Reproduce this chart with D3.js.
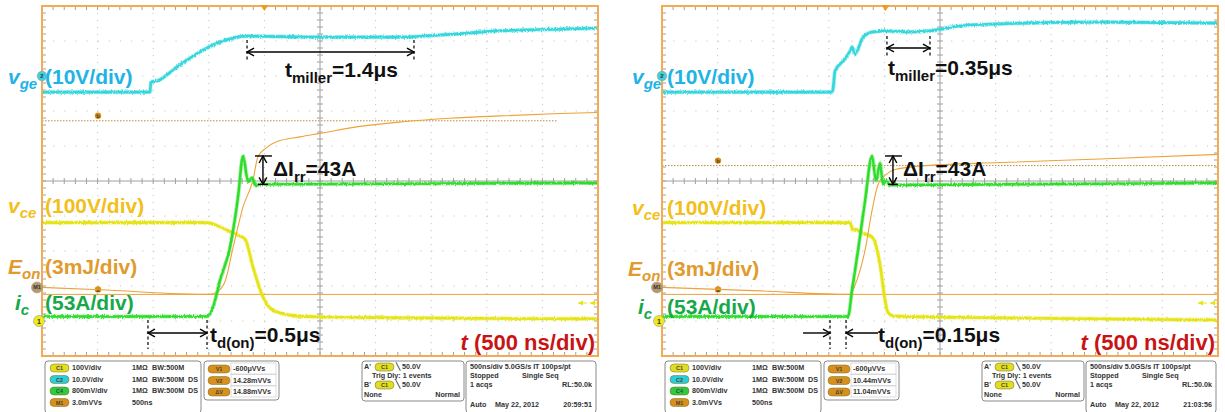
<!DOCTYPE html>
<html>
<head>
<meta charset="utf-8">
<script src="https://cdn.jsdelivr.net/npm/d3@7"></script>
<style>
  body { margin: 0; background: #fff; }
  svg { display: block; font-family: "Liberation Sans", Arial, sans-serif; }
</style>
</head>
<body>
<svg id="chart" width="1225" height="412"></svg>
<script>
// ---- Measured waveforms (time in ns, 500 ns/div, 10 div) ----
// Left capture
const leftVgeT  = [0, 971, 980, 1034, 1214, 1421, 1601, 1844, 2500, 3219, 3579, 4119, 4658, 5000];
const leftVgeV  = [-4.6, -4.6, -1.7, -1.4, 2.6, 6.9, 9.7, 11.4, 11.1, 11.1, 11.7, 12.9, 13.4, 13.7];
const leftVceT  = [0, 1484, 1601, 1718, 1826, 1897, 1987, 2050, 2140, 2320, 2500, 3219, 5000];
const leftVceV  = [281, 281, 269, 251, 234, 154, 69, 37, 23, 14, 12, 9, 6];
const leftIcT   = [0, 1484, 1538, 1601, 1691, 1763, 1808, 1853, 1888, 1924, 1960, 5000];
const leftIcA   = [0, 0, 14, 55, 105, 181, 243, 204, 210, 198, 200, 202];
const leftEonT  = [0, 522, 1511, 1574, 1646, 1718, 1808, 1897, 1942, 2023, 2113, 2320, 2500, 2860, 3246, 3669, 4119, 4658, 5000];
const leftEonE  = [0, -0.2, -0.6, -0.4, 0.5, 3.4, 6.9, 9.2, 11.2, 12.0, 12.5, 12.9, 13.2, 13.8, 14.2, 14.5, 14.7, 14.9, 15.0];
const leftCursors = [-0.6, 14.28];          // V1, V2 (mJ)
const leftMiller  = [1844, 3345];           // ns
const leftTdOn    = [953, 1484];            // ns
const leftIrrT    = 1987;                   // ns
const leftIrr     = [200, 243];             // A (steady, peak)

// Right capture
const rightVgeT = [0, 1529, 1538, 1556, 1628, 1691, 1709, 1736, 1808, 1898, 2023, 2230, 2410, 2680, 3040, 3939, 5000];
const rightVgeV = [-4.6, -4.6, -3.7, 1.4, 4.3, 7.1, 8.3, 6.3, 11.1, 12.6, 12.9, 12.6, 12.9, 14.3, 14.9, 15.4, 15.1];
const rightVceT = [0, 1691, 1718, 1745, 1781, 1898, 1961, 2006, 2032, 2095, 3040, 5000];
const rightVceV = [281, 281, 260, 262, 255, 237, 160, 60, 23, 14, 9, 3];
const rightIcT  = [0, 1673, 1709, 1763, 1826, 1889, 1925, 1961, 1988, 2014, 2050, 5000];
const rightIcA  = [0, 0, 40, 100, 175, 243, 205, 232, 200, 206, 199, 202];
const rightEonT = [0, 881, 1691, 1736, 1826, 1889, 1942, 2006, 2095, 2320, 3040, 3939, 5000];
const rightEonE = [0, -0.3, -0.6, 0.2, 3.2, 6.6, 8.8, 9.6, 10.1, 10.4, 10.7, 11.0, 11.4];
const rightCursors = [-0.6, 10.44];
const rightMiller  = [2023, 2410];
const rightTdOn    = [1511, 1655];
const rightIrrT    = 2077;
const rightIrr     = [200, 243];

// Readout panels
const chanRows = [
  ["C1", "100V/div", "1MΩ", "BW:500M", ""],
  ["C2", "10.0V/div", "1MΩ", "BW:500M", "DS"],
  ["C4", "800mV/div", "1MΩ", "BW:500M", "DS"],
  ["M1", "3.0mVVs", "500ns", "", ""]
];
const leftCursorRows  = [["V1", "-600μVVs"], ["V2", "14.28mVVs"], ["ΔV", "14.88mVVs"]];
const rightCursorRows = [["V1", "-600μVVs"], ["V2", "10.44mVVs"], ["ΔV", "11.04mVVs"]];
const leftClock  = "20:59:51";
const rightClock = "21:03:56";

// ---- Drawing ----
const svg = d3.select("#chart");
const PW = 556, PH = 350, PY = 6;
const COL = {
  frame: "#f3ab55", grid: "#c6c6c6", axis: "#a0a0a0",
  vge: "#35d6dc", vce: "#e4e414", ic: "#2fdc2a", eon: "#eea23a",
  vgeTxt: "#20b4e6", vceTxt: "#f2bf1c", eonTxt: "#e19a2c", icTxt: "#17a84a", tTxt: "#c81414"
};
const badge = { C1: "#e0de20", C2: "#28cfd8", C4: "#2ccc3c", M1: "#d8901c", V1: "#d8901c", V2: "#d8901c", "ΔV": "#d8901c" };

// acquisition-noise look for the sampled traces: vertical-only jitter
const defs = svg.append("defs");
const f = defs.append("filter").attr("id", "jitter").attr("x", "-2%").attr("y", "-10%").attr("width", "104%").attr("height", "120%");
f.append("feTurbulence").attr("type", "fractalNoise").attr("baseFrequency", "1.1 0.35").attr("numOctaves", 2).attr("seed", 3).attr("result", "n");
f.append("feColorMatrix").attr("in", "n").attr("type", "matrix")
  .attr("values", "0 0 0 0 0.5  0 1 0 0 0  0 0 0 0 0  0 0 0 0 1").attr("result", "nm");
f.append("feDisplacementMap").attr("in", "SourceGraphic").attr("in2", "nm").attr("scale", 3.2)
  .attr("xChannelSelector", "R").attr("yChannelSelector", "G");

function chScale(perDiv, groundDiv) {
  return d3.scaleLinear()
    .domain([(-5 - groundDiv) * perDiv, (5 - groundDiv) * perDiv])
    .range([PY + PH, PY]);
}

function arrowHead(g, x, y, dir, size) {
  // open "V" arrowhead; dir: "l","r","u","d"
  const s = size || 7, w = s * 0.55;
  let d;
  if (dir === "l") d = `M${x + s},${y - w} L${x},${y} L${x + s},${y + w}`;
  if (dir === "r") d = `M${x - s},${y - w} L${x},${y} L${x - s},${y + w}`;
  if (dir === "u") d = `M${x - w},${y + s} L${x},${y} L${x + w},${y + s}`;
  if (dir === "d") d = `M${x - w},${y - s} L${x},${y} L${x + w},${y - s}`;
  g.append("path").attr("d", d).attr("fill", "none").attr("stroke", "#000").attr("stroke-width", 1.4);
}

function drawPanel(p) {
  const g = svg.append("g");
  const x = d3.scaleLinear().domain([0, 5000]).range([p.x0, p.x0 + PW]);
  const yVge = chScale(10, 3.0);
  const yVce = chScale(100, -4.0);
  const yIc  = chScale(53, -3.87);
  const yEon = chScale(3, -3.04);
  const X1 = p.x0 + PW, Y1 = PY + PH;
  const dx = PW / 10, dy = PH / 10;
  const cx = p.x0 + PW / 2, cy = PY + PH / 2;

  // graticule: dotted division lines
  const grid = g.append("g");
  for (let i = 1; i < 10; i++) {
    if (i === 5) continue;
    grid.append("line").attr("x1", p.x0 + i * dx).attr("x2", p.x0 + i * dx).attr("y1", PY).attr("y2", Y1)
      .attr("stroke", COL.grid).attr("stroke-width", 1).attr("stroke-dasharray", `1.2,${dy / 5 - 1.2}`);
    grid.append("line").attr("y1", PY + i * dy).attr("y2", PY + i * dy).attr("x1", p.x0).attr("x2", X1)
      .attr("stroke", COL.grid).attr("stroke-width", 1).attr("stroke-dasharray", `1.2,${dx / 5 - 1.2}`);
  }
  // centre axes with minor ticks
  grid.append("line").attr("x1", cx).attr("x2", cx).attr("y1", PY).attr("y2", Y1).attr("stroke", COL.axis).attr("stroke-width", 1);
  grid.append("line").attr("y1", cy).attr("y2", cy).attr("x1", p.x0).attr("x2", X1).attr("stroke", COL.axis).attr("stroke-width", 1);
  for (let i = 1; i < 50; i++) {
    const xx = p.x0 + i * dx / 5, yy = PY + i * dy / 5;
    grid.append("line").attr("x1", xx).attr("x2", xx).attr("y1", cy - 3).attr("y2", cy + 3).attr("stroke", COL.axis);
    grid.append("line").attr("y1", yy).attr("y2", yy).attr("x1", cx - 3).attr("x2", cx + 3).attr("stroke", COL.axis);
    // frame ticks
    grid.append("line").attr("x1", xx).attr("x2", xx).attr("y1", PY).attr("y2", PY + 4).attr("stroke", COL.axis);
    grid.append("line").attr("x1", xx).attr("x2", xx).attr("y1", Y1 - 4).attr("y2", Y1).attr("stroke", COL.axis);
    grid.append("line").attr("y1", yy).attr("y2", yy).attr("x1", p.x0).attr("x2", p.x0 + 4).attr("stroke", COL.axis);
    grid.append("line").attr("y1", yy).attr("y2", yy).attr("x1", X1 - 4).attr("x2", X1).attr("stroke", COL.axis);
  }

  // cursors (energy levels)
  g.append("line").attr("x1", p.x0).attr("x2", X1).attr("y1", yEon(p.cursors[0])).attr("y2", yEon(p.cursors[0]))
    .attr("stroke", COL.eon).attr("stroke-width", 1);
  g.append("line").attr("x1", p.x0).attr("x2", X1 - p.dotCut).attr("y1", yEon(p.cursors[1])).attr("y2", yEon(p.cursors[1]))
    .attr("stroke", "#b88a3a").attr("stroke-width", 1).attr("stroke-dasharray", "1.5,1.5");
  [["a", p.cursors[0]], ["b", p.cursors[1]]].forEach(([lab, v]) => {
    const xx = p.x0 + 56, yy = yEon(v) - 5;
    g.append("circle").attr("cx", xx).attr("cy", yy).attr("r", 3.2).attr("fill", "#d89020");
    g.append("text").attr("x", xx).attr("y", yy + 2.2).attr("text-anchor", "middle").attr("font-size", 6)
      .attr("font-weight", "bold").attr("fill", "#5a3a00").text(lab);
  });

  const line = (ys) => d3.line().x(d => x(d[0])).y(d => ys(d[1])).curve(d3.curveMonotoneX);
  const trace = (ts, vs, ys, color, w) => {
    const pts = ts.map((t, i) => [t, vs[i]]);
    const tg = g.append("g").attr("filter", "url(#jitter)");
    tg.append("path").attr("d", line(ys)(pts)).attr("fill", "none").attr("stroke", color)
      .attr("stroke-width", w + 1.6).attr("stroke-opacity", 0.4).attr("stroke-linejoin", "round");
    tg.append("path").attr("d", line(ys)(pts)).attr("fill", "none").attr("stroke", color)
      .attr("stroke-width", w).attr("stroke-linejoin", "round");
  };
  trace(p.vgeT, p.vgeV, yVge, COL.vge, 2.6);
  trace(p.vceT, p.vceV, yVce, COL.vce, 2.6);
  g.append("path").attr("d", line(yEon)(p.eonT.map((t, i) => [t, p.eonE[i]])))
    .attr("fill", "none").attr("stroke", COL.eon).attr("stroke-width", 1.1);
  trace(p.icT, p.icA, yIc, COL.ic, 2.4);

  // off-screen indicator arrows (right edge)
  const ya = yVce(0) - 18;
  [X1 - 20, X1 - 8].forEach(xx => {
    g.append("path").attr("d", `M${xx},${ya} l5,-2.5 l0,5 z`).attr("fill", COL.vce);
    g.append("line").attr("x1", xx).attr("x2", xx + 9).attr("y1", ya).attr("y2", ya).attr("stroke", COL.vce).attr("stroke-width", 1);
  });

  // frame
  g.append("rect").attr("x", p.x0).attr("y", PY).attr("width", PW).attr("height", PH)
    .attr("fill", "none").attr("stroke", COL.frame).attr("stroke-width", 2);
  // trigger position marker
  const tx = x(p.trigT);
  g.append("path").attr("d", `M${tx - 4},${PY - 1} L${tx + 4},${PY - 1} L${tx},${PY + 5} Z`).attr("fill", "#f09a20");

  // channel ground markers
  const mk = (yy, r, fill, lab, fs, xoff) => {
    g.append("circle").attr("cx", p.x0 + xoff).attr("cy", yy).attr("r", r).attr("fill", fill).attr("stroke", "#999").attr("stroke-width", 0.6);
    g.append("text").attr("x", p.x0 + xoff).attr("y", yy + fs * 0.36).attr("text-anchor", "middle")
      .attr("font-size", fs).attr("font-weight", "bold").attr("fill", "#333").text(lab);
  };
  mk(yVge(0), 4.8, "#3fd2dc", "2", 6, 0);
  mk(yEon(0), 5.5, "#b49a6a", "M1", 5.5, -5);
  mk(yVce(0), 5.5, "#f0ea1a", "1", 7, -3);

  // channel labels
  const lab = (yy, color, sym, sub, scale) => {
    const t = g.append("text").attr("y", yy).attr("font-size", 21).attr("font-weight", "bold").attr("fill", color);
    t.append("tspan").attr("x", p.x0 + p.symDx[sym]).attr("font-style", "italic").text(sym);
    t.append("tspan").attr("font-style", "italic").attr("font-size", 15).attr("dy", 5).text(sub);
    g.append("text").attr("x", p.x0 + p.labDx).attr("y", yy).attr("font-size", 21).attr("font-weight", "bold")
      .attr("fill", color).text(scale);
  };
  lab(p.labY[0], COL.vgeTxt, "v", "ge", "(10V/div)");
  lab(p.labY[1], COL.vceTxt, "v", "ce", "(100V/div)");
  lab(p.labY[2], COL.eonTxt, "E", "on", "(3mJ/div)");
  lab(p.labY[3], COL.icTxt, "i", "c", "(53A/div)");

  // time base label
  const tt = g.append("text").attr("x", X1 - 3).attr("y", Y1 - 6).attr("text-anchor", "end")
    .attr("font-size", 22).attr("font-weight", "bold").attr("fill", COL.tTxt);
  tt.append("tspan").attr("font-style", "italic").text("t");
  tt.append("tspan").text(" (500 ns/div)");

  // ---- annotations ----
  const ann = g.append("g");
  const dashV = (xx, y0, y1) => ann.append("line").attr("x1", xx).attr("x2", xx).attr("y1", y0).attr("y2", y1)
    .attr("stroke", "#000").attr("stroke-width", 1.2).attr("stroke-dasharray", "3,2.5");
  const hLine = (x0, x1, yy) => ann.append("line").attr("x1", x0).attr("x2", x1).attr("y1", yy).attr("y2", yy)
    .attr("stroke", "#000").attr("stroke-width", 1.4);
  const subText = (xx, yy, main, sub, rest) => {
    const t = ann.append("text").attr("x", xx).attr("y", yy).attr("font-size", 21).attr("font-weight", "bold").attr("fill", "#111");
    t.append("tspan").text(main);
    t.append("tspan").attr("font-size", 15).attr("dy", 6).text(sub);
    t.append("tspan").attr("dy", -6).text(rest);
  };

  // Miller plateau
  const m0 = x(p.miller[0]), m1 = x(p.miller[1]), my = p.millerY;
  dashV(m0, my - 12, my + 10); dashV(m1, my - 12, my + 10);
  hLine(m0, m1, my); arrowHead(ann, m0, my, "l"); arrowHead(ann, m1, my, "r");
  subText(p.millerTx, p.millerTy, "t", "miller", p.millerText);

  // reverse-recovery overshoot
  const ix = x(p.irrT), iy0 = yIc(p.irr[1]), iy1 = yIc(p.irr[0]);
  hLine(ix - 8, ix + 9, iy0);
  ann.append("line").attr("x1", ix).attr("x2", ix).attr("y1", iy0).attr("y2", iy1).attr("stroke", "#000").attr("stroke-width", 1.4);
  arrowHead(ann, ix, iy0, "u"); arrowHead(ann, ix, iy1, "d");
  hLine(ix - 5, ix + 5, iy1);
  subText(ix + 10, iy0 + 20, "ΔI", "rr", "=" + (p.irr[1] - p.irr[0]) + "A");

  // turn-on delay
  const d0 = x(p.tdOn[0]), d1 = x(p.tdOn[1]), dyy = 333;
  dashV(d0, 320, 349); dashV(d1, 320, 349);
  if (p.tdInward) {
    hLine(d0 - 27, d0, dyy); arrowHead(ann, d0, dyy, "r");
    hLine(d1, d1 + 32, dyy); arrowHead(ann, d1, dyy, "l");
  } else {
    hLine(d0, d1, dyy); arrowHead(ann, d0, dyy, "l"); arrowHead(ann, d1, dyy, "r");
  }
  subText(p.tdTx, 342, "t", "d(on)", p.tdText);

  // ---- readout boxes ----
  const box = (bx, by, bw, bh) => g.append("rect").attr("x", bx).attr("y", by).attr("width", bw).attr("height", bh)
    .attr("rx", 3).attr("fill", "#fff").attr("stroke", "#8a8a8a").attr("stroke-width", 1);
  const small = (xx, yy, s, anchor) => g.append("text").attr("x", xx).attr("y", yy).attr("font-size", 7.2)
    .attr("font-weight", "bold").attr("fill", "#333").attr("text-anchor", anchor || "start").text(s);
  const pill = (xx, yy, key, w) => {
    g.append("rect").attr("x", xx).attr("y", yy - 6).attr("width", w || 19).attr("height", 8).attr("rx", 4)
      .attr("fill", badge[key] || "#e0de20").attr("stroke", "#7a6a20").attr("stroke-width", 0.5);
    g.append("text").attr("x", xx + (w || 19) / 2).attr("y", yy).attr("text-anchor", "middle").attr("font-size", 5.5)
      .attr("font-weight", "bold").attr("fill", "#444").text(key);
  };
  const bx = p.x0;
  box(bx + 3, 361, 156, 52);
  chanRows.forEach((r, i) => {
    const yy = 370 + i * 11.5;
    pill(bx + 8, yy, r[0]);
    small(bx + 30, yy, r[1]);
    small(bx + 90, yy, r[2]);
    if (r[3]) small(bx + 110, yy, r[3]);
    if (r[4]) small(bx + 146, yy, r[4]);
  });
  box(bx + 162, 361, 75, 39);
  p.cursorRows.forEach((r, i) => {
    const yy = 371 + i * 11.5;
    pill(bx + 166, yy, r[0], 22);
    g.append("rect").attr("x", bx + 189).attr("y", yy - 8).attr("width", 45).attr("height", 11)
      .attr("fill", "none").attr("stroke", "#cfcfcf").attr("stroke-width", 0.7);
    small(bx + 191, yy, r[1]);
  });
  box(bx + 320, 361, 102, 40);
  small(bx + 322, 369, "A'"); pill(bx + 333, 369, "C1"); small(bx + 354, 369, "╲ 50.0V");
  small(bx + 330, 378, "Trig Dly: 1 events");
  small(bx + 322, 387, "B'"); pill(bx + 333, 387, "C1"); small(bx + 354, 387, "╲ 50.0V");
  small(bx + 322, 397, "None"); small(bx + 418, 397, "Normal", "end");
  box(bx + 424, 361, 130, 52);
  small(bx + 428, 369, "500ns/div  5.0GS/s   IT    100ps/pt");
  small(bx + 428, 378, "Stopped"); small(bx + 480, 378, "Single Seq");
  small(bx + 428, 387, "1 acqs"); small(bx + 550, 387, "RL:50.0k", "end");
  small(bx + 428, 407, "Auto"); small(bx + 453, 407, "May 22, 2012"); small(bx + 550, 407, p.clock, "end");
}

drawPanel({
  x0: 42, trigT: 2000, dotCut: 40,
  vgeT: leftVgeT, vgeV: leftVgeV, vceT: leftVceT, vceV: leftVceV,
  icT: leftIcT, icA: leftIcA, eonT: leftEonT, eonE: leftEonE,
  cursors: leftCursors, miller: leftMiller, tdOn: leftTdOn, irrT: leftIrrT, irr: leftIrr,
  millerY: 52, millerTx: 285, millerTy: 77, millerText: "=1.4μs",
  tdInward: false, tdTx: 210, tdText: "=0.5μs",
  labY: [84, 213, 274, 310], labDx: 3, symDx: { v: -34, E: -34, i: -27 },
  cursorRows: leftCursorRows, clock: leftClock
});
drawPanel({
  x0: 662, trigT: 2010, dotCut: 0,
  vgeT: rightVgeT, vgeV: rightVgeV, vceT: rightVceT, vceV: rightVceV,
  icT: rightIcT, icA: rightIcA, eonT: rightEonT, eonE: rightEonE,
  cursors: rightCursors, miller: rightMiller, tdOn: rightTdOn, irrT: rightIrrT, irr: rightIrr,
  millerY: 48, millerTx: 888, millerTy: 75, millerText: "=0.35μs",
  tdInward: true, tdTx: 878, tdText: "=0.15μs",
  labY: [84, 215, 276, 314], labDx: 5, symDx: { v: -30, E: -34, i: -24 },
  cursorRows: rightCursorRows, clock: rightClock
});
</script>
</body>
</html>
